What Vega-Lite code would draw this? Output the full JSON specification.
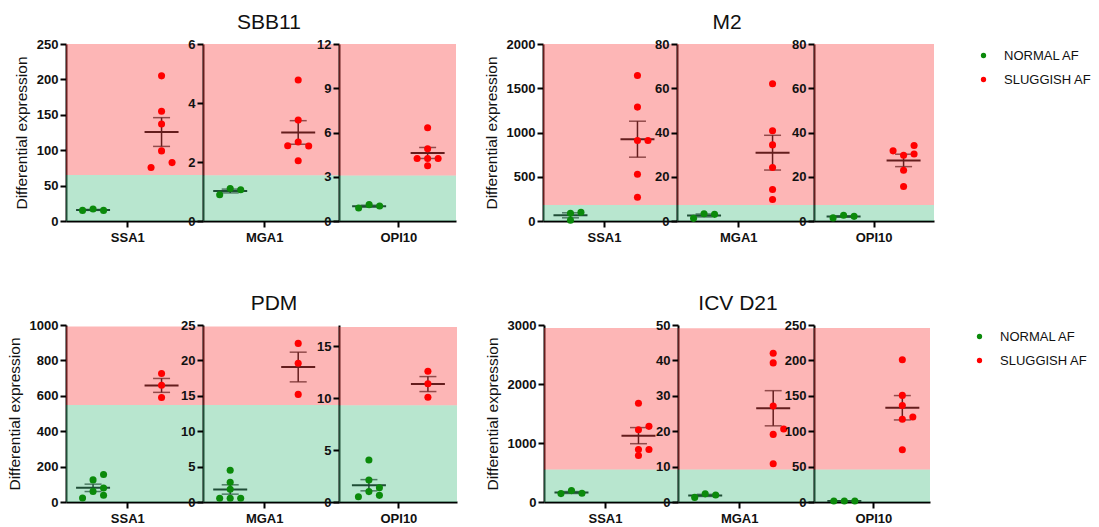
{
"$schema":"https://vega.github.io/schema/vega-lite/v6.json",
"padding":{"left":7,"top":12,"right":5,"bottom":5},
"data":{"name":"d"},
"datasets":{"d":[
{"g":"SBB11","gene":"SSA1","zone":"N","lo":0,"hi":65},{"g":"SBB11","gene":"SSA1","zone":"S","lo":65,"hi":250},
{"g":"SBB11","gene":"MGA1","zone":"N","lo":0,"hi":1.55},{"g":"SBB11","gene":"MGA1","zone":"S","lo":1.55,"hi":6},
{"g":"SBB11","gene":"OPI10","zone":"N","lo":0,"hi":3.08},{"g":"SBB11","gene":"OPI10","zone":"S","lo":3.08,"hi":12},
{"g":"M2","gene":"SSA1","zone":"N","lo":0,"hi":181},{"g":"M2","gene":"SSA1","zone":"S","lo":181,"hi":2000},
{"g":"M2","gene":"MGA1","zone":"N","lo":0,"hi":7.2},{"g":"M2","gene":"MGA1","zone":"S","lo":7.2,"hi":80},
{"g":"M2","gene":"OPI10","zone":"N","lo":0,"hi":7.2},{"g":"M2","gene":"OPI10","zone":"S","lo":7.2,"hi":80},
{"g":"PDM","gene":"SSA1","zone":"N","lo":0,"hi":548},{"g":"PDM","gene":"SSA1","zone":"S","lo":548,"hi":992},
{"g":"PDM","gene":"MGA1","zone":"N","lo":0,"hi":13.7},{"g":"PDM","gene":"MGA1","zone":"S","lo":13.7,"hi":24.8},
{"g":"PDM","gene":"OPI10","zone":"N","lo":0,"hi":9.32},{"g":"PDM","gene":"OPI10","zone":"S","lo":9.32,"hi":16.86},
{"g":"ICV","gene":"SSA1","zone":"N","lo":0,"hi":550},{"g":"ICV","gene":"SSA1","zone":"S","lo":550,"hi":2949},
{"g":"ICV","gene":"MGA1","zone":"N","lo":0,"hi":9.17},{"g":"ICV","gene":"MGA1","zone":"S","lo":9.17,"hi":49.1},
{"g":"ICV","gene":"OPI10","zone":"N","lo":0,"hi":45.9},{"g":"ICV","gene":"OPI10","zone":"S","lo":45.9,"hi":245.7},

{"g":"SBB11","gene":"SSA1","cond":"NORMAL AF","v":15,"dx":-1},{"g":"SBB11","gene":"SSA1","cond":"NORMAL AF","v":17,"dx":0},{"g":"SBB11","gene":"SSA1","cond":"NORMAL AF","v":15,"dx":1},
{"g":"SBB11","gene":"SSA1","cond":"SLUGGISH AF","v":205,"dx":0},{"g":"SBB11","gene":"SSA1","cond":"SLUGGISH AF","v":155,"dx":0},{"g":"SBB11","gene":"SSA1","cond":"SLUGGISH AF","v":137,"dx":0},{"g":"SBB11","gene":"SSA1","cond":"SLUGGISH AF","v":99,"dx":0},{"g":"SBB11","gene":"SSA1","cond":"SLUGGISH AF","v":75.5,"dx":-1},{"g":"SBB11","gene":"SSA1","cond":"SLUGGISH AF","v":82.5,"dx":1},
{"g":"SBB11","gene":"MGA1","cond":"NORMAL AF","v":0.89,"dx":-1},{"g":"SBB11","gene":"MGA1","cond":"NORMAL AF","v":1.1,"dx":0},{"g":"SBB11","gene":"MGA1","cond":"NORMAL AF","v":1.06,"dx":1},
{"g":"SBB11","gene":"MGA1","cond":"SLUGGISH AF","v":4.78,"dx":0},{"g":"SBB11","gene":"MGA1","cond":"SLUGGISH AF","v":3.42,"dx":0},{"g":"SBB11","gene":"MGA1","cond":"SLUGGISH AF","v":2.55,"dx":-1},{"g":"SBB11","gene":"MGA1","cond":"SLUGGISH AF","v":2.68,"dx":0},{"g":"SBB11","gene":"MGA1","cond":"SLUGGISH AF","v":2.54,"dx":1},{"g":"SBB11","gene":"MGA1","cond":"SLUGGISH AF","v":2.04,"dx":0},
{"g":"SBB11","gene":"OPI10","cond":"NORMAL AF","v":0.88,"dx":-1},{"g":"SBB11","gene":"OPI10","cond":"NORMAL AF","v":1.11,"dx":0},{"g":"SBB11","gene":"OPI10","cond":"NORMAL AF","v":1.02,"dx":1},
{"g":"SBB11","gene":"OPI10","cond":"SLUGGISH AF","v":6.32,"dx":0},{"g":"SBB11","gene":"OPI10","cond":"SLUGGISH AF","v":4.89,"dx":0},{"g":"SBB11","gene":"OPI10","cond":"SLUGGISH AF","v":4.24,"dx":-1},{"g":"SBB11","gene":"OPI10","cond":"SLUGGISH AF","v":4.24,"dx":0},{"g":"SBB11","gene":"OPI10","cond":"SLUGGISH AF","v":4.24,"dx":1},{"g":"SBB11","gene":"OPI10","cond":"SLUGGISH AF","v":3.74,"dx":0},

{"g":"M2","gene":"SSA1","cond":"NORMAL AF","v":87,"dx":0},{"g":"M2","gene":"SSA1","cond":"NORMAL AF","v":8,"dx":0},{"g":"M2","gene":"SSA1","cond":"NORMAL AF","v":98,"dx":1},
{"g":"M2","gene":"SSA1","cond":"SLUGGISH AF","v":1645,"dx":0},{"g":"M2","gene":"SSA1","cond":"SLUGGISH AF","v":1287,"dx":0},{"g":"M2","gene":"SSA1","cond":"SLUGGISH AF","v":909,"dx":0},{"g":"M2","gene":"SSA1","cond":"SLUGGISH AF","v":909,"dx":1},{"g":"M2","gene":"SSA1","cond":"SLUGGISH AF","v":528,"dx":0},{"g":"M2","gene":"SSA1","cond":"SLUGGISH AF","v":268,"dx":0},
{"g":"M2","gene":"MGA1","cond":"NORMAL AF","v":1.2,"dx":-1},{"g":"M2","gene":"MGA1","cond":"NORMAL AF","v":3.3,"dx":0},{"g":"M2","gene":"MGA1","cond":"NORMAL AF","v":3.0,"dx":1},
{"g":"M2","gene":"MGA1","cond":"SLUGGISH AF","v":62,"dx":0},{"g":"M2","gene":"MGA1","cond":"SLUGGISH AF","v":40.8,"dx":0},{"g":"M2","gene":"MGA1","cond":"SLUGGISH AF","v":34.4,"dx":0},{"g":"M2","gene":"MGA1","cond":"SLUGGISH AF","v":24.2,"dx":0},{"g":"M2","gene":"MGA1","cond":"SLUGGISH AF","v":14.2,"dx":0},{"g":"M2","gene":"MGA1","cond":"SLUGGISH AF","v":9.7,"dx":0},
{"g":"M2","gene":"OPI10","cond":"NORMAL AF","v":1.4,"dx":-1},{"g":"M2","gene":"OPI10","cond":"NORMAL AF","v":2.6,"dx":0},{"g":"M2","gene":"OPI10","cond":"NORMAL AF","v":2.1,"dx":1},
{"g":"M2","gene":"OPI10","cond":"SLUGGISH AF","v":31.7,"dx":-1},{"g":"M2","gene":"OPI10","cond":"SLUGGISH AF","v":29.7,"dx":0},{"g":"M2","gene":"OPI10","cond":"SLUGGISH AF","v":34.1,"dx":1},{"g":"M2","gene":"OPI10","cond":"SLUGGISH AF","v":30.3,"dx":1},{"g":"M2","gene":"OPI10","cond":"SLUGGISH AF","v":22.9,"dx":0},{"g":"M2","gene":"OPI10","cond":"SLUGGISH AF","v":15.6,"dx":0},

{"g":"PDM","gene":"SSA1","cond":"NORMAL AF","v":23,"dx":-1},{"g":"PDM","gene":"SSA1","cond":"NORMAL AF","v":125,"dx":0},{"g":"PDM","gene":"SSA1","cond":"NORMAL AF","v":155,"dx":1},{"g":"PDM","gene":"SSA1","cond":"NORMAL AF","v":60,"dx":0},{"g":"PDM","gene":"SSA1","cond":"NORMAL AF","v":79,"dx":1},{"g":"PDM","gene":"SSA1","cond":"NORMAL AF","v":38,"dx":1},
{"g":"PDM","gene":"SSA1","cond":"SLUGGISH AF","v":726,"dx":0},{"g":"PDM","gene":"SSA1","cond":"SLUGGISH AF","v":660,"dx":0},{"g":"PDM","gene":"SSA1","cond":"SLUGGISH AF","v":590,"dx":0},
{"g":"PDM","gene":"MGA1","cond":"NORMAL AF","v":4.48,"dx":0},{"g":"PDM","gene":"MGA1","cond":"NORMAL AF","v":2.78,"dx":0},{"g":"PDM","gene":"MGA1","cond":"NORMAL AF","v":1.79,"dx":0},{"g":"PDM","gene":"MGA1","cond":"NORMAL AF","v":0.52,"dx":-1},{"g":"PDM","gene":"MGA1","cond":"NORMAL AF","v":0.52,"dx":0},{"g":"PDM","gene":"MGA1","cond":"NORMAL AF","v":0.52,"dx":1},
{"g":"PDM","gene":"MGA1","cond":"SLUGGISH AF","v":22.4,"dx":0},{"g":"PDM","gene":"MGA1","cond":"SLUGGISH AF","v":19.6,"dx":0},{"g":"PDM","gene":"MGA1","cond":"SLUGGISH AF","v":15.2,"dx":0},
{"g":"PDM","gene":"OPI10","cond":"NORMAL AF","v":4.05,"dx":0},{"g":"PDM","gene":"OPI10","cond":"NORMAL AF","v":2.12,"dx":0},{"g":"PDM","gene":"OPI10","cond":"NORMAL AF","v":1.38,"dx":1},{"g":"PDM","gene":"OPI10","cond":"NORMAL AF","v":0.51,"dx":-1},{"g":"PDM","gene":"OPI10","cond":"NORMAL AF","v":1.0,"dx":0},{"g":"PDM","gene":"OPI10","cond":"NORMAL AF","v":0.64,"dx":1},
{"g":"PDM","gene":"OPI10","cond":"SLUGGISH AF","v":12.6,"dx":0},{"g":"PDM","gene":"OPI10","cond":"SLUGGISH AF","v":11.4,"dx":0},{"g":"PDM","gene":"OPI10","cond":"SLUGGISH AF","v":10.1,"dx":0},

{"g":"ICV","gene":"SSA1","cond":"NORMAL AF","v":142,"dx":-1},{"g":"ICV","gene":"SSA1","cond":"NORMAL AF","v":193,"dx":0},{"g":"ICV","gene":"SSA1","cond":"NORMAL AF","v":147,"dx":1},
{"g":"ICV","gene":"SSA1","cond":"SLUGGISH AF","v":1673,"dx":0},{"g":"ICV","gene":"SSA1","cond":"SLUGGISH AF","v":1225,"dx":0},{"g":"ICV","gene":"SSA1","cond":"SLUGGISH AF","v":1282,"dx":1},{"g":"ICV","gene":"SSA1","cond":"SLUGGISH AF","v":890,"dx":0},{"g":"ICV","gene":"SSA1","cond":"SLUGGISH AF","v":890,"dx":1},{"g":"ICV","gene":"SSA1","cond":"SLUGGISH AF","v":788,"dx":0},
{"g":"ICV","gene":"MGA1","cond":"NORMAL AF","v":1.3,"dx":-1},{"g":"ICV","gene":"MGA1","cond":"NORMAL AF","v":2.3,"dx":0},{"g":"ICV","gene":"MGA1","cond":"NORMAL AF","v":2.0,"dx":1},
{"g":"ICV","gene":"MGA1","cond":"SLUGGISH AF","v":42,"dx":0},{"g":"ICV","gene":"MGA1","cond":"SLUGGISH AF","v":39.3,"dx":0},{"g":"ICV","gene":"MGA1","cond":"SLUGGISH AF","v":27.1,"dx":0},{"g":"ICV","gene":"MGA1","cond":"SLUGGISH AF","v":19.1,"dx":0},{"g":"ICV","gene":"MGA1","cond":"SLUGGISH AF","v":20.6,"dx":1},{"g":"ICV","gene":"MGA1","cond":"SLUGGISH AF","v":10.8,"dx":0},
{"g":"ICV","gene":"OPI10","cond":"NORMAL AF","v":1.5,"dx":-1},{"g":"ICV","gene":"OPI10","cond":"NORMAL AF","v":1.3,"dx":0},{"g":"ICV","gene":"OPI10","cond":"NORMAL AF","v":1.4,"dx":1},
{"g":"ICV","gene":"OPI10","cond":"SLUGGISH AF","v":201,"dx":0},{"g":"ICV","gene":"OPI10","cond":"SLUGGISH AF","v":150.6,"dx":0},{"g":"ICV","gene":"OPI10","cond":"SLUGGISH AF","v":136.4,"dx":0},{"g":"ICV","gene":"OPI10","cond":"SLUGGISH AF","v":117,"dx":0},{"g":"ICV","gene":"OPI10","cond":"SLUGGISH AF","v":120,"dx":1},{"g":"ICV","gene":"OPI10","cond":"SLUGGISH AF","v":73.7,"dx":0}
]},
"resolve":{"scale":{"color":"independent"}},
"spacing":49,
"vconcat":[
{"spacing":28,"hconcat":[
{"title":{"text":"SBB11","anchor":"middle","dx":203},"spacing":0,"bounds":"flush","hconcat":[
{"width":137,"height":177,"transform":[{"filter":"datum.g==='SBB11'&&datum.gene==='SSA1'"}],"layer":[
{"transform":[{"filter":"isValid(datum.v)"}],"mark":{"type":"errorbar","extent":"stderr","color":"#000","thickness":1.5,"ticks":{"size":17}},"encoding":{"x":{"field":"cond","type":"nominal","scale":{"type":"point","domain":["NORMAL AF","mid","SLUGGISH AF"],"padding":1.686,"align":0.395},"axis":{"values":["mid"],"labelExpr":"'SSA1'","title":null}},"y":{"field":"v","type":"quantitative","scale":{"domain":[0,250],"nice":false},"axis":{"values":[0,50,100,150,200,250],"title":"Differential expression"}}}},
{"transform":[{"filter":"isValid(datum.v)"}],"mark":{"type":"tick","color":"#000","thickness":2,"size":34},"encoding":{"x":{"field":"cond","type":"nominal","scale":{"type":"point","domain":["NORMAL AF","mid","SLUGGISH AF"],"padding":1.686,"align":0.395},"axis":{"values":["mid"],"labelExpr":"'SSA1'","title":null}},"y":{"aggregate":"mean","field":"v","type":"quantitative","scale":{"domain":[0,250],"nice":false},"axis":{"values":[0,50,100,150,200,250],"title":"Differential expression"}}}},
{"transform":[{"filter":"isValid(datum.lo)"}],"mark":{"type":"rect","opacity":0.4},"encoding":{"y":{"field":"lo","type":"quantitative","scale":{"domain":[0,250],"nice":false},"axis":{"values":[0,50,100,150,200,250],"title":"Differential expression"}},"y2":{"field":"hi"},"color":{"condition":{"test":"datum.zone==='N'","value":"#4ec187"},"value":"#fa4848"}}},
{"transform":[{"filter":"isValid(datum.v)"}],"mark":{"type":"circle","size":50,"opacity":1},"encoding":{"x":{"field":"cond","type":"nominal","scale":{"type":"point","domain":["NORMAL AF","mid","SLUGGISH AF"],"padding":1.686,"align":0.395},"axis":{"values":["mid"],"labelExpr":"'SSA1'","title":null}},"xOffset":{"field":"dx","type":"quantitative","scale":{"domain":[-1,1],"range":[-10.5,10.5]}},"y":{"field":"v","type":"quantitative","scale":{"domain":[0,250],"nice":false},"axis":{"values":[0,50,100,150,200,250],"title":"Differential expression"}},"color":{"field":"cond","type":"nominal","scale":{"domain":["NORMAL AF","SLUGGISH AF"],"range":["#0b8a0b","#ff0000"]},"legend":{"title":null}}}}
]},
{"width":136,"height":177,"transform":[{"filter":"datum.g==='SBB11'&&datum.gene==='MGA1'"}],"layer":[
{"transform":[{"filter":"isValid(datum.v)"}],"mark":{"type":"errorbar","extent":"stderr","color":"#000","thickness":1.5,"ticks":{"size":17}},"encoding":{"x":{"field":"cond","type":"nominal","scale":{"type":"point","domain":["NORMAL AF","mid","SLUGGISH AF"],"padding":1.667,"align":0.4},"axis":{"values":["mid"],"labelExpr":"'MGA1'","title":null}},"y":{"field":"v","type":"quantitative","scale":{"domain":[0,6],"nice":false},"axis":{"values":[0,2,4,6],"title":null}}}},
{"transform":[{"filter":"isValid(datum.v)"}],"mark":{"type":"tick","color":"#000","thickness":2,"size":34},"encoding":{"x":{"field":"cond","type":"nominal","scale":{"type":"point","domain":["NORMAL AF","mid","SLUGGISH AF"],"padding":1.667,"align":0.4},"axis":{"values":["mid"],"labelExpr":"'MGA1'","title":null}},"y":{"aggregate":"mean","field":"v","type":"quantitative","scale":{"domain":[0,6],"nice":false},"axis":{"values":[0,2,4,6],"title":null}}}},
{"transform":[{"filter":"isValid(datum.lo)"}],"mark":{"type":"rect","opacity":0.4},"encoding":{"y":{"field":"lo","type":"quantitative","scale":{"domain":[0,6],"nice":false},"axis":{"values":[0,2,4,6],"title":null}},"y2":{"field":"hi"},"color":{"condition":{"test":"datum.zone==='N'","value":"#4ec187"},"value":"#fa4848"}}},
{"transform":[{"filter":"isValid(datum.v)"}],"mark":{"type":"circle","size":50,"opacity":1},"encoding":{"x":{"field":"cond","type":"nominal","scale":{"type":"point","domain":["NORMAL AF","mid","SLUGGISH AF"],"padding":1.667,"align":0.4},"axis":{"values":["mid"],"labelExpr":"'MGA1'","title":null}},"xOffset":{"field":"dx","type":"quantitative","scale":{"domain":[-1,1],"range":[-10.5,10.5]}},"y":{"field":"v","type":"quantitative","scale":{"domain":[0,6],"nice":false},"axis":{"values":[0,2,4,6],"title":null}},"color":{"field":"cond","type":"nominal","scale":{"domain":["NORMAL AF","SLUGGISH AF"],"range":["#0b8a0b","#ff0000"]},"legend":{"title":null}}}}
]},
{"width":117,"height":177,"transform":[{"filter":"datum.g==='SBB11'&&datum.gene==='OPI10'"}],"layer":[
{"transform":[{"filter":"isValid(datum.v)"}],"mark":{"type":"errorbar","extent":"stderr","color":"#000","thickness":1.5,"ticks":{"size":17}},"encoding":{"x":{"field":"cond","type":"nominal","scale":{"type":"point","domain":["NORMAL AF","mid","SLUGGISH AF"],"padding":1.294,"align":0.515},"axis":{"values":["mid"],"labelExpr":"'OPI10'","title":null}},"y":{"field":"v","type":"quantitative","scale":{"domain":[0,12],"nice":false},"axis":{"values":[0,3,6,9,12],"title":null}}}},
{"transform":[{"filter":"isValid(datum.v)"}],"mark":{"type":"tick","color":"#000","thickness":2,"size":34},"encoding":{"x":{"field":"cond","type":"nominal","scale":{"type":"point","domain":["NORMAL AF","mid","SLUGGISH AF"],"padding":1.294,"align":0.515},"axis":{"values":["mid"],"labelExpr":"'OPI10'","title":null}},"y":{"aggregate":"mean","field":"v","type":"quantitative","scale":{"domain":[0,12],"nice":false},"axis":{"values":[0,3,6,9,12],"title":null}}}},
{"transform":[{"filter":"isValid(datum.lo)"}],"mark":{"type":"rect","opacity":0.4},"encoding":{"y":{"field":"lo","type":"quantitative","scale":{"domain":[0,12],"nice":false},"axis":{"values":[0,3,6,9,12],"title":null}},"y2":{"field":"hi"},"color":{"condition":{"test":"datum.zone==='N'","value":"#4ec187"},"value":"#fa4848"}}},
{"transform":[{"filter":"isValid(datum.v)"}],"mark":{"type":"circle","size":50,"opacity":1},"encoding":{"x":{"field":"cond","type":"nominal","scale":{"type":"point","domain":["NORMAL AF","mid","SLUGGISH AF"],"padding":1.294,"align":0.515},"axis":{"values":["mid"],"labelExpr":"'OPI10'","title":null}},"xOffset":{"field":"dx","type":"quantitative","scale":{"domain":[-1,1],"range":[-10.5,10.5]}},"y":{"field":"v","type":"quantitative","scale":{"domain":[0,12],"nice":false},"axis":{"values":[0,3,6,9,12],"title":null}},"color":{"field":"cond","type":"nominal","scale":{"domain":["NORMAL AF","SLUGGISH AF"],"range":["#0b8a0b","#ff0000"]},"legend":{"title":null}}}}
]}
]},
{"title":{"text":"M2","anchor":"middle","dx":184},"spacing":0,"bounds":"flush","hconcat":[
{"width":134,"height":177,"transform":[{"filter":"datum.g==='M2'&&datum.gene==='SSA1'"}],"layer":[
{"transform":[{"filter":"isValid(datum.v)"}],"mark":{"type":"errorbar","extent":"stderr","color":"#000","thickness":1.5,"ticks":{"size":17}},"encoding":{"x":{"field":"cond","type":"nominal","scale":{"type":"point","domain":["NORMAL AF","mid","SLUGGISH AF"],"padding":1.627,"align":0.41},"axis":{"values":["mid"],"labelExpr":"'SSA1'","title":null}},"y":{"field":"v","type":"quantitative","scale":{"domain":[0,2000],"nice":false},"axis":{"values":[0,500,1000,1500,2000],"title":"Differential expression"}}}},
{"transform":[{"filter":"isValid(datum.v)"}],"mark":{"type":"tick","color":"#000","thickness":2,"size":34},"encoding":{"x":{"field":"cond","type":"nominal","scale":{"type":"point","domain":["NORMAL AF","mid","SLUGGISH AF"],"padding":1.627,"align":0.41},"axis":{"values":["mid"],"labelExpr":"'SSA1'","title":null}},"y":{"aggregate":"mean","field":"v","type":"quantitative","scale":{"domain":[0,2000],"nice":false},"axis":{"values":[0,500,1000,1500,2000],"title":"Differential expression"}}}},
{"transform":[{"filter":"isValid(datum.lo)"}],"mark":{"type":"rect","opacity":0.4},"encoding":{"y":{"field":"lo","type":"quantitative","scale":{"domain":[0,2000],"nice":false},"axis":{"values":[0,500,1000,1500,2000],"title":"Differential expression"}},"y2":{"field":"hi"},"color":{"condition":{"test":"datum.zone==='N'","value":"#4ec187"},"value":"#fa4848"}}},
{"transform":[{"filter":"isValid(datum.v)"}],"mark":{"type":"circle","size":50,"opacity":1},"encoding":{"x":{"field":"cond","type":"nominal","scale":{"type":"point","domain":["NORMAL AF","mid","SLUGGISH AF"],"padding":1.627,"align":0.41},"axis":{"values":["mid"],"labelExpr":"'SSA1'","title":null}},"xOffset":{"field":"dx","type":"quantitative","scale":{"domain":[-1,1],"range":[-10.5,10.5]}},"y":{"field":"v","type":"quantitative","scale":{"domain":[0,2000],"nice":false},"axis":{"values":[0,500,1000,1500,2000],"title":"Differential expression"}},"color":{"field":"cond","type":"nominal","scale":{"domain":["NORMAL AF","SLUGGISH AF"],"range":["#0b8a0b","#ff0000"]},"legend":{"title":null}}}}
]},
{"width":137,"height":177,"transform":[{"filter":"datum.g==='M2'&&datum.gene==='MGA1'"}],"layer":[
{"transform":[{"filter":"isValid(datum.v)"}],"mark":{"type":"errorbar","extent":"stderr","color":"#000","thickness":1.5,"ticks":{"size":17}},"encoding":{"x":{"field":"cond","type":"nominal","scale":{"type":"point","domain":["NORMAL AF","mid","SLUGGISH AF"],"padding":1.686,"align":0.395},"axis":{"values":["mid"],"labelExpr":"'MGA1'","title":null}},"y":{"field":"v","type":"quantitative","scale":{"domain":[0,80],"nice":false},"axis":{"values":[0,20,40,60,80],"title":null}}}},
{"transform":[{"filter":"isValid(datum.v)"}],"mark":{"type":"tick","color":"#000","thickness":2,"size":34},"encoding":{"x":{"field":"cond","type":"nominal","scale":{"type":"point","domain":["NORMAL AF","mid","SLUGGISH AF"],"padding":1.686,"align":0.395},"axis":{"values":["mid"],"labelExpr":"'MGA1'","title":null}},"y":{"aggregate":"mean","field":"v","type":"quantitative","scale":{"domain":[0,80],"nice":false},"axis":{"values":[0,20,40,60,80],"title":null}}}},
{"transform":[{"filter":"isValid(datum.lo)"}],"mark":{"type":"rect","opacity":0.4},"encoding":{"y":{"field":"lo","type":"quantitative","scale":{"domain":[0,80],"nice":false},"axis":{"values":[0,20,40,60,80],"title":null}},"y2":{"field":"hi"},"color":{"condition":{"test":"datum.zone==='N'","value":"#4ec187"},"value":"#fa4848"}}},
{"transform":[{"filter":"isValid(datum.v)"}],"mark":{"type":"circle","size":50,"opacity":1},"encoding":{"x":{"field":"cond","type":"nominal","scale":{"type":"point","domain":["NORMAL AF","mid","SLUGGISH AF"],"padding":1.686,"align":0.395},"axis":{"values":["mid"],"labelExpr":"'MGA1'","title":null}},"xOffset":{"field":"dx","type":"quantitative","scale":{"domain":[-1,1],"range":[-10.5,10.5]}},"y":{"field":"v","type":"quantitative","scale":{"domain":[0,80],"nice":false},"axis":{"values":[0,20,40,60,80],"title":null}},"color":{"field":"cond","type":"nominal","scale":{"domain":["NORMAL AF","SLUGGISH AF"],"range":["#0b8a0b","#ff0000"]},"legend":{"title":null}}}}
]},
{"width":120,"height":177,"transform":[{"filter":"datum.g==='M2'&&datum.gene==='OPI10'"}],"layer":[
{"transform":[{"filter":"isValid(datum.v)"}],"mark":{"type":"errorbar","extent":"stderr","color":"#000","thickness":1.5,"ticks":{"size":17}},"encoding":{"x":{"field":"cond","type":"nominal","scale":{"type":"point","domain":["NORMAL AF","mid","SLUGGISH AF"],"padding":1.353,"align":0.493},"axis":{"values":["mid"],"labelExpr":"'OPI10'","title":null}},"y":{"field":"v","type":"quantitative","scale":{"domain":[0,80],"nice":false},"axis":{"values":[0,20,40,60,80],"title":null}}}},
{"transform":[{"filter":"isValid(datum.v)"}],"mark":{"type":"tick","color":"#000","thickness":2,"size":34},"encoding":{"x":{"field":"cond","type":"nominal","scale":{"type":"point","domain":["NORMAL AF","mid","SLUGGISH AF"],"padding":1.353,"align":0.493},"axis":{"values":["mid"],"labelExpr":"'OPI10'","title":null}},"y":{"aggregate":"mean","field":"v","type":"quantitative","scale":{"domain":[0,80],"nice":false},"axis":{"values":[0,20,40,60,80],"title":null}}}},
{"transform":[{"filter":"isValid(datum.lo)"}],"mark":{"type":"rect","opacity":0.4},"encoding":{"y":{"field":"lo","type":"quantitative","scale":{"domain":[0,80],"nice":false},"axis":{"values":[0,20,40,60,80],"title":null}},"y2":{"field":"hi"},"color":{"condition":{"test":"datum.zone==='N'","value":"#4ec187"},"value":"#fa4848"}}},
{"transform":[{"filter":"isValid(datum.v)"}],"mark":{"type":"circle","size":50,"opacity":1},"encoding":{"x":{"field":"cond","type":"nominal","scale":{"type":"point","domain":["NORMAL AF","mid","SLUGGISH AF"],"padding":1.353,"align":0.493},"axis":{"values":["mid"],"labelExpr":"'OPI10'","title":null}},"xOffset":{"field":"dx","type":"quantitative","scale":{"domain":[-1,1],"range":[-10.5,10.5]}},"y":{"field":"v","type":"quantitative","scale":{"domain":[0,80],"nice":false},"axis":{"values":[0,20,40,60,80],"title":null}},"color":{"field":"cond","type":"nominal","scale":{"domain":["NORMAL AF","SLUGGISH AF"],"range":["#0b8a0b","#ff0000"]},"legend":{"title":null}}}}
]}
]}
]},
{"spacing":28,"hconcat":[
{"title":{"text":"PDM","anchor":"middle","dx":208},"spacing":0,"bounds":"flush","hconcat":[
{"width":137,"height":177,"transform":[{"filter":"datum.g==='PDM'&&datum.gene==='SSA1'"}],"layer":[
{"transform":[{"filter":"isValid(datum.v)"}],"mark":{"type":"errorbar","extent":"stderr","color":"#000","thickness":1.5,"ticks":{"size":17}},"encoding":{"x":{"field":"cond","type":"nominal","scale":{"type":"point","domain":["NORMAL AF","mid","SLUGGISH AF"],"padding":1.686,"align":0.395},"axis":{"values":["mid"],"labelExpr":"'SSA1'","title":null}},"y":{"field":"v","type":"quantitative","scale":{"domain":[0,1000],"nice":false},"axis":{"values":[0,200,400,600,800,1000],"title":"Differential expression"}}}},
{"transform":[{"filter":"isValid(datum.v)"}],"mark":{"type":"tick","color":"#000","thickness":2,"size":34},"encoding":{"x":{"field":"cond","type":"nominal","scale":{"type":"point","domain":["NORMAL AF","mid","SLUGGISH AF"],"padding":1.686,"align":0.395},"axis":{"values":["mid"],"labelExpr":"'SSA1'","title":null}},"y":{"aggregate":"mean","field":"v","type":"quantitative","scale":{"domain":[0,1000],"nice":false},"axis":{"values":[0,200,400,600,800,1000],"title":"Differential expression"}}}},
{"transform":[{"filter":"isValid(datum.lo)"}],"mark":{"type":"rect","opacity":0.4},"encoding":{"y":{"field":"lo","type":"quantitative","scale":{"domain":[0,1000],"nice":false},"axis":{"values":[0,200,400,600,800,1000],"title":"Differential expression"}},"y2":{"field":"hi"},"color":{"condition":{"test":"datum.zone==='N'","value":"#4ec187"},"value":"#fa4848"}}},
{"transform":[{"filter":"isValid(datum.v)"}],"mark":{"type":"circle","size":50,"opacity":1},"encoding":{"x":{"field":"cond","type":"nominal","scale":{"type":"point","domain":["NORMAL AF","mid","SLUGGISH AF"],"padding":1.686,"align":0.395},"axis":{"values":["mid"],"labelExpr":"'SSA1'","title":null}},"xOffset":{"field":"dx","type":"quantitative","scale":{"domain":[-1,1],"range":[-10.5,10.5]}},"y":{"field":"v","type":"quantitative","scale":{"domain":[0,1000],"nice":false},"axis":{"values":[0,200,400,600,800,1000],"title":"Differential expression"}},"color":{"field":"cond","type":"nominal","scale":{"domain":["NORMAL AF","SLUGGISH AF"],"range":["#0b8a0b","#ff0000"]},"legend":{"title":null}}}}
]},
{"width":136,"height":177,"transform":[{"filter":"datum.g==='PDM'&&datum.gene==='MGA1'"}],"layer":[
{"transform":[{"filter":"isValid(datum.v)"}],"mark":{"type":"errorbar","extent":"stderr","color":"#000","thickness":1.5,"ticks":{"size":17}},"encoding":{"x":{"field":"cond","type":"nominal","scale":{"type":"point","domain":["NORMAL AF","mid","SLUGGISH AF"],"padding":1.667,"align":0.4},"axis":{"values":["mid"],"labelExpr":"'MGA1'","title":null}},"y":{"field":"v","type":"quantitative","scale":{"domain":[0,25],"nice":false},"axis":{"values":[0,5,10,15,20,25],"title":null}}}},
{"transform":[{"filter":"isValid(datum.v)"}],"mark":{"type":"tick","color":"#000","thickness":2,"size":34},"encoding":{"x":{"field":"cond","type":"nominal","scale":{"type":"point","domain":["NORMAL AF","mid","SLUGGISH AF"],"padding":1.667,"align":0.4},"axis":{"values":["mid"],"labelExpr":"'MGA1'","title":null}},"y":{"aggregate":"mean","field":"v","type":"quantitative","scale":{"domain":[0,25],"nice":false},"axis":{"values":[0,5,10,15,20,25],"title":null}}}},
{"transform":[{"filter":"isValid(datum.lo)"}],"mark":{"type":"rect","opacity":0.4},"encoding":{"y":{"field":"lo","type":"quantitative","scale":{"domain":[0,25],"nice":false},"axis":{"values":[0,5,10,15,20,25],"title":null}},"y2":{"field":"hi"},"color":{"condition":{"test":"datum.zone==='N'","value":"#4ec187"},"value":"#fa4848"}}},
{"transform":[{"filter":"isValid(datum.v)"}],"mark":{"type":"circle","size":50,"opacity":1},"encoding":{"x":{"field":"cond","type":"nominal","scale":{"type":"point","domain":["NORMAL AF","mid","SLUGGISH AF"],"padding":1.667,"align":0.4},"axis":{"values":["mid"],"labelExpr":"'MGA1'","title":null}},"xOffset":{"field":"dx","type":"quantitative","scale":{"domain":[-1,1],"range":[-10.5,10.5]}},"y":{"field":"v","type":"quantitative","scale":{"domain":[0,25],"nice":false},"axis":{"values":[0,5,10,15,20,25],"title":null}},"color":{"field":"cond","type":"nominal","scale":{"domain":["NORMAL AF","SLUGGISH AF"],"range":["#0b8a0b","#ff0000"]},"legend":{"title":null}}}}
]},
{"width":118,"height":177,"transform":[{"filter":"datum.g==='PDM'&&datum.gene==='OPI10'"}],"layer":[
{"transform":[{"filter":"isValid(datum.v)"}],"mark":{"type":"errorbar","extent":"stderr","color":"#000","thickness":1.5,"ticks":{"size":17}},"encoding":{"x":{"field":"cond","type":"nominal","scale":{"type":"point","domain":["NORMAL AF","mid","SLUGGISH AF"],"padding":1.314,"align":0.507},"axis":{"values":["mid"],"labelExpr":"'OPI10'","title":null}},"y":{"field":"v","type":"quantitative","scale":{"domain":[0,17.06],"nice":false},"axis":{"values":[0,5,10,15],"title":null}}}},
{"transform":[{"filter":"isValid(datum.v)"}],"mark":{"type":"tick","color":"#000","thickness":2,"size":34},"encoding":{"x":{"field":"cond","type":"nominal","scale":{"type":"point","domain":["NORMAL AF","mid","SLUGGISH AF"],"padding":1.314,"align":0.507},"axis":{"values":["mid"],"labelExpr":"'OPI10'","title":null}},"y":{"aggregate":"mean","field":"v","type":"quantitative","scale":{"domain":[0,17.06],"nice":false},"axis":{"values":[0,5,10,15],"title":null}}}},
{"transform":[{"filter":"isValid(datum.lo)"}],"mark":{"type":"rect","opacity":0.4},"encoding":{"y":{"field":"lo","type":"quantitative","scale":{"domain":[0,17.06],"nice":false},"axis":{"values":[0,5,10,15],"title":null}},"y2":{"field":"hi"},"color":{"condition":{"test":"datum.zone==='N'","value":"#4ec187"},"value":"#fa4848"}}},
{"transform":[{"filter":"isValid(datum.v)"}],"mark":{"type":"circle","size":50,"opacity":1},"encoding":{"x":{"field":"cond","type":"nominal","scale":{"type":"point","domain":["NORMAL AF","mid","SLUGGISH AF"],"padding":1.314,"align":0.507},"axis":{"values":["mid"],"labelExpr":"'OPI10'","title":null}},"xOffset":{"field":"dx","type":"quantitative","scale":{"domain":[-1,1],"range":[-10.5,10.5]}},"y":{"field":"v","type":"quantitative","scale":{"domain":[0,17.06],"nice":false},"axis":{"values":[0,5,10,15],"title":null}},"color":{"field":"cond","type":"nominal","scale":{"domain":["NORMAL AF","SLUGGISH AF"],"range":["#0b8a0b","#ff0000"]},"legend":{"title":null}}}}
]}
]},
{"title":{"text":"ICV D21","anchor":"middle","dx":194},"spacing":0,"bounds":"flush","hconcat":[
{"width":134,"height":177,"transform":[{"filter":"datum.g==='ICV'&&datum.gene==='SSA1'"}],"layer":[
{"transform":[{"filter":"isValid(datum.v)"}],"mark":{"type":"errorbar","extent":"stderr","color":"#000","thickness":1.5,"ticks":{"size":17}},"encoding":{"x":{"field":"cond","type":"nominal","scale":{"type":"point","domain":["NORMAL AF","mid","SLUGGISH AF"],"padding":1.627,"align":0.41},"axis":{"values":["mid"],"labelExpr":"'SSA1'","title":null}},"y":{"field":"v","type":"quantitative","scale":{"domain":[0,3000],"nice":false},"axis":{"values":[0,1000,2000,3000],"title":"Differential expression"}}}},
{"transform":[{"filter":"isValid(datum.v)"}],"mark":{"type":"tick","color":"#000","thickness":2,"size":34},"encoding":{"x":{"field":"cond","type":"nominal","scale":{"type":"point","domain":["NORMAL AF","mid","SLUGGISH AF"],"padding":1.627,"align":0.41},"axis":{"values":["mid"],"labelExpr":"'SSA1'","title":null}},"y":{"aggregate":"mean","field":"v","type":"quantitative","scale":{"domain":[0,3000],"nice":false},"axis":{"values":[0,1000,2000,3000],"title":"Differential expression"}}}},
{"transform":[{"filter":"isValid(datum.lo)"}],"mark":{"type":"rect","opacity":0.4},"encoding":{"y":{"field":"lo","type":"quantitative","scale":{"domain":[0,3000],"nice":false},"axis":{"values":[0,1000,2000,3000],"title":"Differential expression"}},"y2":{"field":"hi"},"color":{"condition":{"test":"datum.zone==='N'","value":"#4ec187"},"value":"#fa4848"}}},
{"transform":[{"filter":"isValid(datum.v)"}],"mark":{"type":"circle","size":50,"opacity":1},"encoding":{"x":{"field":"cond","type":"nominal","scale":{"type":"point","domain":["NORMAL AF","mid","SLUGGISH AF"],"padding":1.627,"align":0.41},"axis":{"values":["mid"],"labelExpr":"'SSA1'","title":null}},"xOffset":{"field":"dx","type":"quantitative","scale":{"domain":[-1,1],"range":[-10.5,10.5]}},"y":{"field":"v","type":"quantitative","scale":{"domain":[0,3000],"nice":false},"axis":{"values":[0,1000,2000,3000],"title":"Differential expression"}},"color":{"field":"cond","type":"nominal","scale":{"domain":["NORMAL AF","SLUGGISH AF"],"range":["#0b8a0b","#ff0000"]},"legend":{"title":null}}}}
]},
{"width":136,"height":177,"transform":[{"filter":"datum.g==='ICV'&&datum.gene==='MGA1'"}],"layer":[
{"transform":[{"filter":"isValid(datum.v)"}],"mark":{"type":"errorbar","extent":"stderr","color":"#000","thickness":1.5,"ticks":{"size":17}},"encoding":{"x":{"field":"cond","type":"nominal","scale":{"type":"point","domain":["NORMAL AF","mid","SLUGGISH AF"],"padding":1.667,"align":0.4},"axis":{"values":["mid"],"labelExpr":"'MGA1'","title":null}},"y":{"field":"v","type":"quantitative","scale":{"domain":[0,50],"nice":false},"axis":{"values":[0,10,20,30,40,50],"title":null}}}},
{"transform":[{"filter":"isValid(datum.v)"}],"mark":{"type":"tick","color":"#000","thickness":2,"size":34},"encoding":{"x":{"field":"cond","type":"nominal","scale":{"type":"point","domain":["NORMAL AF","mid","SLUGGISH AF"],"padding":1.667,"align":0.4},"axis":{"values":["mid"],"labelExpr":"'MGA1'","title":null}},"y":{"aggregate":"mean","field":"v","type":"quantitative","scale":{"domain":[0,50],"nice":false},"axis":{"values":[0,10,20,30,40,50],"title":null}}}},
{"transform":[{"filter":"isValid(datum.lo)"}],"mark":{"type":"rect","opacity":0.4},"encoding":{"y":{"field":"lo","type":"quantitative","scale":{"domain":[0,50],"nice":false},"axis":{"values":[0,10,20,30,40,50],"title":null}},"y2":{"field":"hi"},"color":{"condition":{"test":"datum.zone==='N'","value":"#4ec187"},"value":"#fa4848"}}},
{"transform":[{"filter":"isValid(datum.v)"}],"mark":{"type":"circle","size":50,"opacity":1},"encoding":{"x":{"field":"cond","type":"nominal","scale":{"type":"point","domain":["NORMAL AF","mid","SLUGGISH AF"],"padding":1.667,"align":0.4},"axis":{"values":["mid"],"labelExpr":"'MGA1'","title":null}},"xOffset":{"field":"dx","type":"quantitative","scale":{"domain":[-1,1],"range":[-10.5,10.5]}},"y":{"field":"v","type":"quantitative","scale":{"domain":[0,50],"nice":false},"axis":{"values":[0,10,20,30,40,50],"title":null}},"color":{"field":"cond","type":"nominal","scale":{"domain":["NORMAL AF","SLUGGISH AF"],"range":["#0b8a0b","#ff0000"]},"legend":{"title":null}}}}
]},
{"width":116,"height":177,"transform":[{"filter":"datum.g==='ICV'&&datum.gene==='OPI10'"}],"layer":[
{"transform":[{"filter":"isValid(datum.v)"}],"mark":{"type":"errorbar","extent":"stderr","color":"#000","thickness":1.5,"ticks":{"size":17}},"encoding":{"x":{"field":"cond","type":"nominal","scale":{"type":"point","domain":["NORMAL AF","mid","SLUGGISH AF"],"padding":1.275,"align":0.523},"axis":{"values":["mid"],"labelExpr":"'OPI10'","title":null}},"y":{"field":"v","type":"quantitative","scale":{"domain":[0,250],"nice":false},"axis":{"values":[0,50,100,150,200,250],"title":null}}}},
{"transform":[{"filter":"isValid(datum.v)"}],"mark":{"type":"tick","color":"#000","thickness":2,"size":34},"encoding":{"x":{"field":"cond","type":"nominal","scale":{"type":"point","domain":["NORMAL AF","mid","SLUGGISH AF"],"padding":1.275,"align":0.523},"axis":{"values":["mid"],"labelExpr":"'OPI10'","title":null}},"y":{"aggregate":"mean","field":"v","type":"quantitative","scale":{"domain":[0,250],"nice":false},"axis":{"values":[0,50,100,150,200,250],"title":null}}}},
{"transform":[{"filter":"isValid(datum.lo)"}],"mark":{"type":"rect","opacity":0.4},"encoding":{"y":{"field":"lo","type":"quantitative","scale":{"domain":[0,250],"nice":false},"axis":{"values":[0,50,100,150,200,250],"title":null}},"y2":{"field":"hi"},"color":{"condition":{"test":"datum.zone==='N'","value":"#4ec187"},"value":"#fa4848"}}},
{"transform":[{"filter":"isValid(datum.v)"}],"mark":{"type":"circle","size":50,"opacity":1},"encoding":{"x":{"field":"cond","type":"nominal","scale":{"type":"point","domain":["NORMAL AF","mid","SLUGGISH AF"],"padding":1.275,"align":0.523},"axis":{"values":["mid"],"labelExpr":"'OPI10'","title":null}},"xOffset":{"field":"dx","type":"quantitative","scale":{"domain":[-1,1],"range":[-10.5,10.5]}},"y":{"field":"v","type":"quantitative","scale":{"domain":[0,250],"nice":false},"axis":{"values":[0,50,100,150,200,250],"title":null}},"color":{"field":"cond","type":"nominal","scale":{"domain":["NORMAL AF","SLUGGISH AF"],"range":["#0b8a0b","#ff0000"]},"legend":{"title":null}}}}
]}
]}
]}
],
"config":{
"view":{"stroke":null},
"font":"Liberation Sans",
"numberFormat":"d",
"axis":{"domainColor":"#000","domainWidth":2,"tickColor":"#000","tickWidth":2,"tickSize":6,"labelFont":"Liberation Sans","labelFontSize":13,"labelFontWeight":"bold","labelColor":"#111","grid":false,"titleFont":"Liberation Sans","titleFontSize":15.5,"titleFontWeight":"normal","titleColor":"#111"},
"axisY":{"labelPadding":2,"titlePadding":7},
"axisX":{"labelPadding":4,"labelAngle":0},
"legend":{"labelFont":"Liberation Sans","labelFontSize":13,"labelColor":"#111","symbolType":"circle","symbolSize":28,"rowPadding":10,"labelOffset":14,"offset":38,"padding":5},
"title":{"font":"Liberation Sans","fontSize":21,"fontWeight":"normal","color":"#111","offset":5,"anchor":"middle","frame":"group"}
}
}
